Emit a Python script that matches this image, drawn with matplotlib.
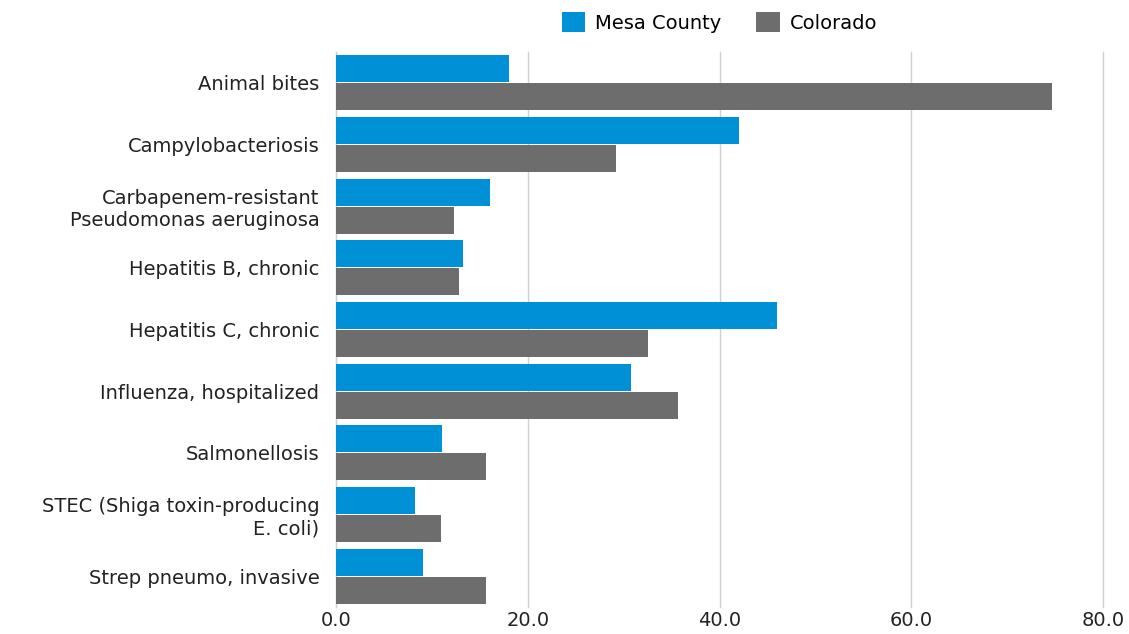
import numpy as np
import matplotlib.pyplot as plt

categories = [
    "Animal bites",
    "Campylobacteriosis",
    "Carbapenem-resistant\nPseudomonas aeruginosa",
    "Hepatitis B, chronic",
    "Hepatitis C, chronic",
    "Influenza, hospitalized",
    "Salmonellosis",
    "STEC (Shiga toxin-producing\nE. coli)",
    "Strep pneumo, invasive",
]
mesa = [18.0, 42.0, 16.1, 13.2, 46.0, 30.8, 11.1, 8.2, 9.1]
colorado = [74.7, 29.2, 12.3, 12.8, 32.5, 35.7, 15.6, 11.0, 15.6]
xticks = [0, 20, 40, 60, 80]

blue = "#0090d6"
gray = "#6d6d6d"

plt.rcParams['font.family'] = ['DejaVu Sans']
fig = plt.figure(figsize=(11.29, 6.34), dpi=100)
ax = fig.add_axes([336 / 1129, 1 - 607 / 634, (1103 - 336) / 1129, 555 / 634])

y = np.arange(len(categories))
h = 0.44
ax.barh(y - 0.227, mesa, height=h, color=blue, label="Mesa County", zorder=3)
ax.barh(y + 0.227, colorado, height=h, color=gray, label="Colorado", zorder=3)

ax.set_ylim(len(categories) - 0.5, -0.5)
ax.set_xlim(0, 80)
ax.set_yticks(y)
ax.set_yticklabels(categories, fontsize=14, color="#222222")
ax.set_xticks(xticks)
ax.set_xticklabels([f"{v:.1f}" for v in xticks], fontsize=14, color="#222222")
ax.tick_params(axis='both', length=0)
ax.tick_params(axis='y', pad=12)
ax.tick_params(axis='x', pad=3)
ax.grid(axis='x', color="#d0d0d0", linewidth=1, zorder=0)
for gl in ax.get_xgridlines():
    gl.set_clip_on(False)
for s in ['top', 'right', 'bottom']:
    ax.spines[s].set_visible(False)
ax.spines['left'].set_color("#d0d0d0")

ax.legend(loc='lower center', bbox_to_anchor=(0.5, 1.0), ncol=2, frameon=False,
          fontsize=14, handlelength=1.2, handleheight=1.2, columnspacing=1.8,
          handletextpad=0.5, borderaxespad=0.6)

fig.savefig("out.png", dpi=100)
